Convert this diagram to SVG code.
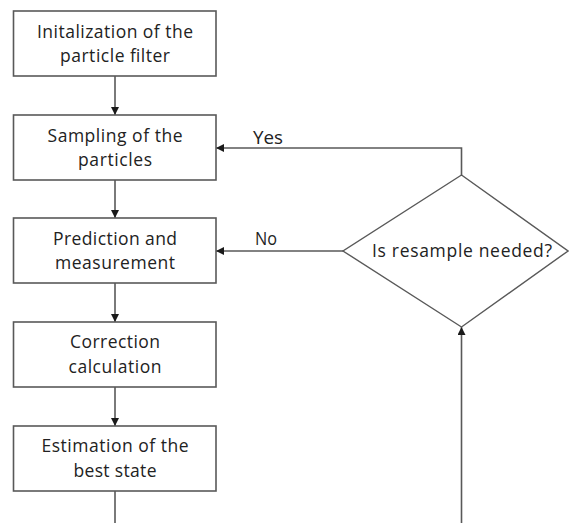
<svg xmlns="http://www.w3.org/2000/svg" width="569" height="523" viewBox="0 0 569 523">
<style>
.box{fill:#ffffff;stroke:#595959;stroke-width:1.6}
.dia{fill:#ffffff;stroke:#595959;stroke-width:1.4}
.ln{fill:none;stroke:#595959;stroke-width:1.6}
text{font-family:"Open Sans","Liberation Sans",sans-serif;font-size:17.5px;fill:#222222}
.c{text-anchor:middle}
</style>
<defs>
<marker id="ah" viewBox="0 0 10 10" refX="10" refY="5" markerWidth="8" markerHeight="8" markerUnits="userSpaceOnUse" orient="auto">
<path d="M0,0 L10,5 L0,10 z" fill="#1a1a1a"/>
</marker>
</defs>
<rect width="569" height="523" fill="#ffffff"/>
<g id="connectors">
<line class="ln" x1="115" y1="76" x2="115" y2="115" marker-end="url(#ah)"/>
<line class="ln" x1="115" y1="180" x2="115" y2="218" marker-end="url(#ah)"/>
<line class="ln" x1="115" y1="283" x2="115" y2="322" marker-end="url(#ah)"/>
<line class="ln" x1="115" y1="387" x2="115" y2="426" marker-end="url(#ah)"/>
<line class="ln" x1="115" y1="491" x2="115" y2="523"/>
<path class="ln" d="M461.5,523 L461.5,327" marker-end="url(#ah)"/>
<path class="ln" d="M461.5,175 L461.5,148 L216,148" marker-end="url(#ah)"/>
<path class="ln" d="M343,251 L216,251" marker-end="url(#ah)"/>
<text x="253" y="143.5" textLength="30" lengthAdjust="spacingAndGlyphs">Yes</text>
<text x="255" y="245" textLength="22" lengthAdjust="spacingAndGlyphs">No</text>
</g>
<g id="n1">
<rect class="box" x="13.5" y="11" width="202.5" height="65"/>
<text class="c" x="115" y="38" textLength="156" lengthAdjust="spacing">Initalization of the</text>
<text class="c" x="115" y="62" textLength="110" lengthAdjust="spacing">particle filter</text>
</g>
<g id="n2">
<rect class="box" x="13.5" y="115" width="202.5" height="65"/>
<text class="c" x="115" y="142" textLength="135" lengthAdjust="spacing">Sampling of the</text>
<text class="c" x="115" y="166" textLength="74" lengthAdjust="spacing">particles</text>
</g>
<g id="n3">
<rect class="box" x="13.5" y="218" width="202.5" height="65"/>
<text class="c" x="115" y="245" textLength="124" lengthAdjust="spacing">Prediction and</text>
<text class="c" x="115" y="269" textLength="120" lengthAdjust="spacing">measurement</text>
</g>
<g id="n4">
<rect class="box" x="13.5" y="322" width="202.5" height="65"/>
<text class="c" x="115" y="348" textLength="90" lengthAdjust="spacing">Correction</text>
<text class="c" x="115" y="373" textLength="93" lengthAdjust="spacing">calculation</text>
</g>
<g id="n5">
<rect class="box" x="13.5" y="426" width="202.5" height="65"/>
<text class="c" x="115" y="452" textLength="147" lengthAdjust="spacing">Estimation of the</text>
<text class="c" x="115" y="477" textLength="83" lengthAdjust="spacing">best state</text>
</g>
<g id="decision">
<polygon class="dia" points="461.5,175 568,251 461.5,327 343,251"/>
<text class="c" x="462" y="257" textLength="180" lengthAdjust="spacing">Is resample needed?</text>
</g>
</svg>
